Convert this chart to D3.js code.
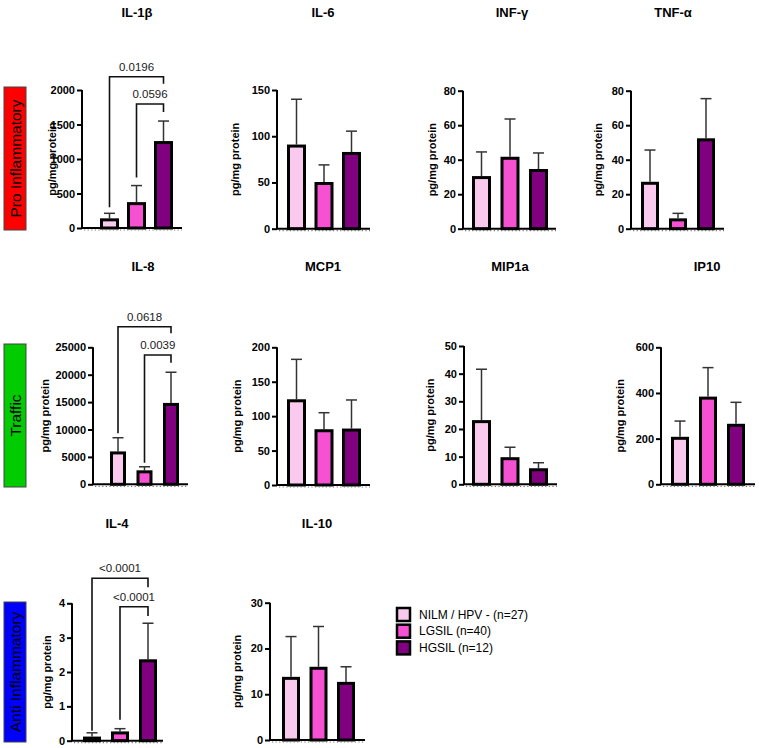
<!DOCTYPE html>
<html><head><meta charset="utf-8">
<script src="https://cdn.jsdelivr.net/npm/d3@7"></script>
<style>
html,body{margin:0;padding:0;background:#fff;}
svg{display:block;font-family:"Liberation Sans",Arial,sans-serif;}
</style></head>
<body><svg id="chart" width="759" height="748"></svg>
<script>
// ---------- DATA ----------
const groups = ["NILM / HPV - (n=27)", "LGSIL (n=40)", "HGSIL (n=12)"];
const panels = ["IL-1β", "IL-6", "INF-γ", "TNF-α", "IL-8", "MCP1", "MIP1a", "IP10", "IL-4", "IL-10"];
const means = [
  [140, 375, 1260],
  [91, 50.5, 83],
  [30.5, 41.7, 34.6],
  [27.2, 6, 52.4],
  [6000, 2550, 14850],
  [124.5, 81, 82],
  [23.2, 9.8, 5.8],
  [208, 384, 265],
  [0.12, 0.27, 2.37],
  [13.8, 16, 12.7]
];
const sds = [
  [73, 240, 290],
  [49, 18.5, 22.5],
  [14, 21.9, 9.3],
  [18.4, 2.9, 23],
  [2500, 650, 5600],
  [58, 24, 41.5],
  [18.4, 3.6, 2],
  [69, 127, 94],
  [0.11, 0.08, 1.05],
  [8.8, 8.8, 3.3]
];
const yMax = [2000, 150, 80, 80, 25000, 200, 50, 600, 4, 30];
const yStep = [500, 50, 20, 20, 5000, 50, 10, 200, 1, 10];
const yLabel = "pg/mg protein";
// comparisons: [panelIndex, fromGroup, toGroup, p]
const comparisons = [
  [0, 0, 2, "0.0196"], [0, 1, 2, "0.0596"],
  [4, 0, 2, "0.0618"], [4, 1, 2, "0.0039"],
  [8, 0, 2, "<0.0001"], [8, 1, 2, "<0.0001"]
];
const sections = ["Pro Inflammatory", "Traffic", "Anti Inflammatory"];

// ---------- STYLE / LAYOUT ----------
const colors = ["#F9CAEE", "#F651D3", "#800080"];
const sectionColors = ["#FF0000", "#00CC00", "#0000FF"];
const sectionBoxes = [[4, 87, 22, 143], [4, 344, 22, 143], [4, 602, 22, 140]];
const layout = [
  {ax:82,  x1:182, top:90,    bottom:228,   bl:100, bw:19, step:27,   lx:52,  tx:137, ty:17},
  {ax:277, x1:370, top:90,    bottom:228.7, bl:287, bw:19, step:27.5, lx:235, tx:323, ty:17},
  {ax:463, x1:556, top:90.7,  bottom:228.7, bl:472, bw:19, step:28.5, lx:432, tx:512, ty:17},
  {ax:631, x1:724, top:90.7,  bottom:228.7, bl:641, bw:18, step:28,   lx:598, tx:673, ty:17},
  {ax:93,  x1:188, top:347.3, bottom:484.3, bl:110, bw:16, step:26.5, lx:45,  tx:143, ty:271},
  {ax:277, x1:370, top:347.3, bottom:485,   bl:287, bw:19, step:27.5, lx:237, tx:323, ty:271},
  {ax:464, x1:557, top:346,   bottom:484.3, bl:472, bw:19, step:28.5, lx:430, tx:510, ty:271},
  {ax:661, x1:755, top:347.3, bottom:484.3, bl:671, bw:18, step:28,   lx:620, tx:707, ty:271},
  {ax:72,  x1:163, top:603.3, bottom:740.7, bl:83,  bw:18, step:28,   lx:47,  tx:117, ty:528},
  {ax:270, x1:365, top:602.7, bottom:740,   bl:282, bw:18, step:27.5, lx:237, tx:317, ty:528}
];
// bracket layout: [yOffset above plot top (px), left leg gap above error bar, right leg length]
const bracketLayout = [[13.3, 6, 7], [-14, 8, 8], [20.6, 4.5, 6.5], [-7.7, 4, 7.7], [25, 2, 9], [-3.4, 9, 9.3]];

const svg = d3.select("#chart");

// section boxes
sections.forEach((s, i) => {
  const [x, y, w, h] = sectionBoxes[i];
  svg.append("rect").attr("x", x).attr("y", y).attr("width", w).attr("height", h)
    .attr("fill", sectionColors[i]).attr("stroke", "#444").attr("stroke-width", 1);
  svg.append("text").attr("transform", `translate(${x + w / 2},${y + h / 2}) rotate(-90)`)
    .attr("text-anchor", "middle").attr("dominant-baseline", "central")
    .attr("font-size", 15.5).attr("fill", "#000").text(s);
});

const scales = [];
panels.forEach((name, pi) => {
  const L = layout[pi];
  const g = svg.append("g");
  const y = d3.scaleLinear().domain([0, yMax[pi]]).range([L.bottom, L.top]);
  const r0 = L.bl - (L.step - L.bw) / 2;
  const x = d3.scaleBand().domain(groups).range([r0, r0 + 3 * L.step])
    .paddingInner((L.step - L.bw) / L.step).paddingOuter((L.step - L.bw) / L.step / 2);
  scales.push({x, y});

  // title
  g.append("text").attr("x", L.tx).attr("y", L.ty).attr("text-anchor", "middle")
    .attr("font-size", 13).attr("font-weight", "bold").text(name);

  // y label
  g.append("text").attr("transform", `translate(${L.lx},${(L.top + L.bottom) / 2}) rotate(-90)`)
    .attr("text-anchor", "middle").attr("dominant-baseline", "central")
    .attr("font-size", 11).attr("font-weight", "bold").text(yLabel);

  // error bars (upper only)
  groups.forEach((gr, gi) => {
    const cx = x(gr) + x.bandwidth() / 2;
    const yt = y(means[pi][gi] + sds[pi][gi]);
    g.append("line").attr("x1", cx).attr("x2", cx).attr("y1", y(means[pi][gi])).attr("y2", yt)
      .attr("stroke", "#333").attr("stroke-width", 1.5);
    g.append("line").attr("x1", cx - 5.5).attr("x2", cx + 5.5).attr("y1", yt).attr("y2", yt)
      .attr("stroke", "#333").attr("stroke-width", 1.5);
  });

  // bars
  g.selectAll("rect.bar").data(groups).enter().append("rect").attr("class", "bar")
    .attr("x", (d) => x(d) + 1.5)
    .attr("width", x.bandwidth() - 3)
    .attr("y", (d, gi) => y(means[pi][gi]) + 1.5)
    .attr("height", (d, gi) => Math.max(0, L.bottom - y(means[pi][gi]) - 1.5))
    .attr("fill", (d, gi) => colors[gi])
    .attr("stroke", "#000").attr("stroke-width", 3);

  // y axis
  const ticks = d3.range(0, yMax[pi] + yStep[pi] / 2, yStep[pi]);
  const axis = d3.axisLeft(y).tickValues(ticks).tickSize(5).tickPadding(2).tickFormat(d3.format("d"));
  const ag = g.append("g").attr("transform", `translate(${L.ax},0)`).call(axis);
  ag.select(".domain").attr("stroke", "#000").attr("stroke-width", 2).attr("d", `M0,${L.bottom}V${L.top}`);
  ag.selectAll(".tick line").attr("stroke", "#000").attr("stroke-width", 2);
  ag.selectAll(".tick text").attr("font-size", 11).attr("font-weight", "bold")
    .attr("font-family", "'Liberation Sans',Arial,sans-serif").attr("fill", "#000");

  // x axis
  g.append("line").attr("x1", L.ax - 1).attr("x2", L.x1).attr("y1", L.bottom).attr("y2", L.bottom)
    .attr("stroke", "#000").attr("stroke-width", 2);
  g.append("line").attr("x1", L.ax + 2).attr("x2", L.x1).attr("y1", L.bottom + 2).attr("y2", L.bottom + 2)
    .attr("stroke", "#777").attr("stroke-width", 1.2).attr("stroke-dasharray", "1.2,2.4");
});

// significance brackets
comparisons.forEach((c, ci) => {
  const [pi, a, b, p] = c;
  const {x, y} = scales[pi];
  const L = layout[pi];
  const [off, gap, rl] = bracketLayout[ci];
  const xa = x(groups[a]) + x.bandwidth() / 2;
  const xb = x(groups[b]) + x.bandwidth() / 2;
  const yb = L.top - off;
  const ya = y(means[pi][a] + sds[pi][a]) - gap;
  svg.append("path").attr("d", `M${xa},${ya}V${yb}H${xb}V${yb + rl}`)
    .attr("fill", "none").attr("stroke", "#111").attr("stroke-width", 1.6);
  svg.append("text").attr("x", (xa + xb) / 2).attr("y", yb - 6).attr("text-anchor", "middle")
    .attr("font-size", 11.5).attr("fill", "#1a1a1a").text(p);
});

// legend
const lg = svg.append("g").attr("transform", "translate(396,607)");
groups.forEach((gr, gi) => {
  lg.append("rect").attr("x", 1).attr("y", gi * 16.7 + 1).attr("width", 13).attr("height", 13)
    .attr("fill", colors[gi]).attr("stroke", "#000").attr("stroke-width", 2.5);
  lg.append("text").attr("x", 23).attr("y", gi * 16.7 + 7.5).attr("dominant-baseline", "central")
    .attr("font-size", 12).attr("fill", "#000").text(gr);
});
</script></body></html>
